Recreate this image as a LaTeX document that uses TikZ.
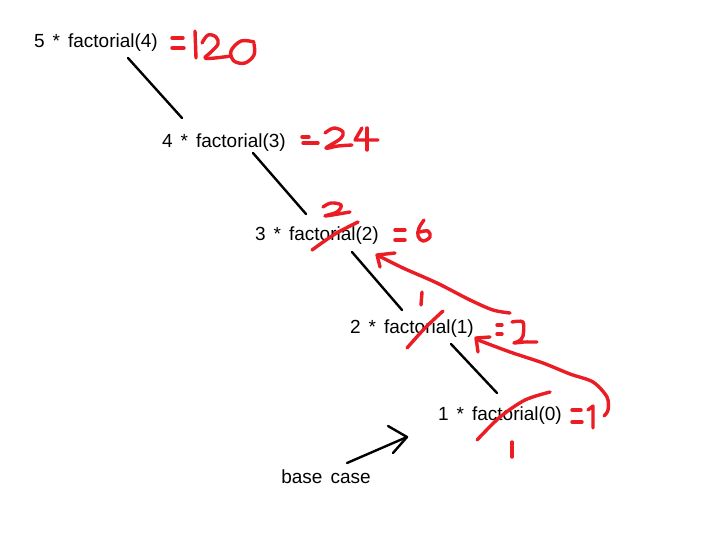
\documentclass[tikz,border=0pt]{standalone}
\usepackage{fontspec}
\setmainfont{Liberation Sans}
\newcommand\lblfont{\fontsize{19}{22}\selectfont\spaceskip=0.42em plus 0pt minus 0pt\relax}
\begin{document}
\begin{tikzpicture}[x=1pt,y=-1pt,
  lbl/.style={inner sep=0pt, font=\lblfont},
  link/.style={line width=2.4pt, line cap=round},
  ink/.style={draw=pen, line width=3.4pt, line cap=round, line join=round}]
\definecolor{pen}{RGB}{236,28,36}
\useasboundingbox[fill=white] (0,0) rectangle (708,533);

% text nodes
\node[lbl] (n1) at (96,43) {5 * factorial(4)};
\node[lbl] (n2) at (224,143) {4 * factorial(3)};
\node[lbl] (n3) at (317,236) {3 * factorial(2)};
\node[lbl] (n4) at (412,329) {2 * factorial(1)};
\node[lbl] (n5) at (500,416) {1 * factorial(0)};
\node[lbl] (base) at (326,477) {base case};

% connector end points
\coordinate (a1) at (128,58);  \coordinate (b1) at (182,118);
\coordinate (a2) at (253,153); \coordinate (b2) at (306,214);
\coordinate (a3) at (352,252); \coordinate (b3) at (402,310);
\coordinate (a4) at (451,344); \coordinate (b4) at (497,393);
\coordinate (bs) at (347,463); \coordinate (bt) at (407,437);

\draw[link] (a1) -- (b1);
\draw[link] (a2) -- (b2);
\draw[link] (a3) -- (b3);
\draw[link] (a4) -- (b4);
\draw[link] (bs) -- (bt);
\draw[link, line join=round] (388,426) -- (bt) -- (393,453);

% red handwriting: =120
\draw[ink] (172,38) -- (183,38);
\draw[ink] (172,48) -- (184,48);
\draw[ink] (195,31) -- (196,58);
\draw[ink] plot[smooth, tension=0.6] coordinates {(202,43) (208,35) (216,37) (218,44) (211,52) (205,58) (215,58) (231,56)};
\draw[ink] plot[smooth, tension=0.6] coordinates {(254,42) (241,41) (231,51) (234,61) (245,63) (254,55) (254,44)};

% =24
\draw[ink] (302,137) -- (309,137);
\draw[ink] (303,143) -- (318,143);
\draw[ink] plot[smooth, tension=0.6] coordinates {(325,133) (334,128) (343,132) (340,139) (326,148) (338,146) (352,145)};
\draw[ink] (362,128) -- (355,140) -- (378,140);
\draw[ink] (367,128) -- (367,150);

% =6
\draw[ink] (395,230) -- (405,230);
\draw[ink] (395,240) -- (405,240);
\draw[ink] plot[smooth, tension=0.6] coordinates {(424,220) (419,228) (418,236) (423,241) (430,237) (428,231) (420,232)};

% strike and 2 over factorial(2)
\draw[ink] plot[smooth] coordinates {(312,250) (335,234) (358,222)};
\draw[ink] plot[smooth, tension=0.6] coordinates {(323,207) (331,203) (341,205) (337,212) (325,216) (350,212)};

% arrow to factorial(2)
\draw[ink] plot[smooth] coordinates {(510,313) (493,310) (470,300) (437,283) (403,268) (379,256)};
\draw[ink] (395,253) -- (377,255) -- (380,267);

% strike and 1 over factorial(1)
\draw[ink] (422,292) -- (421,305);
\draw[ink] plot[smooth] coordinates {(443,311) (425,328) (407,348)};

% =2
\draw[ink] (497,325) -- (502,325);
\draw[ink] (497,334) -- (502,334);
\draw[ink] plot[smooth, tension=0.5] coordinates {(512,322) (523,322) (523,336) (519,341) (514,343) (524,342) (537,342)};

% arrow to factorial(1)
\draw[ink] plot[smooth] coordinates {(478,340) (510,352) (543,363) (570,374) (593,382) (607,397) (608,410) (604,416)};
\draw[ink] (490,337) -- (476,338) -- (478,352);

% =1
\draw[ink] (572,410) -- (581,410);
\draw[ink] (572,422) -- (582,422);
\draw[ink] (588,410) -- (593,406) -- (593,428);

% strike factorial(0) and 1 below
\draw[ink] plot[smooth] coordinates {(477,440) (500,417) (525,400) (550,392)};
\draw[ink] (512,442) -- (512,457);
\end{tikzpicture}
\end{document}
